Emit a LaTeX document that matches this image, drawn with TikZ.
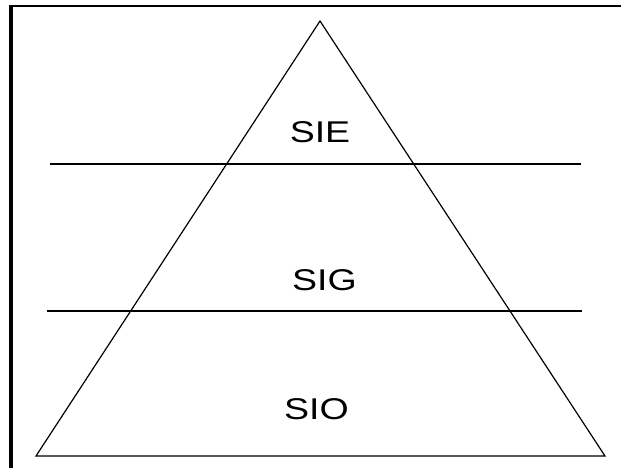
\documentclass[tikz,border=0pt]{standalone}
\usepackage{fontspec}
\usepackage{tikz}
\usetikzlibrary{positioning}
\newfontfamily\lvlfont[FakeStretch=1.25]{Liberation Sans}
\tikzset{
  pyr/.style={draw=black,line width=1.2pt,line join=miter},
  cut/.style={draw=black,line width=1.2pt},
  frameline/.style={draw=black,line width=#1},
  lvl/.style={inner sep=0pt,font=\lvlfont\fontsize{30}{34}\selectfont}
}

\begin{document}
\begin{tikzpicture}[x=1pt,y=-1pt]
  \useasboundingbox (0,0) rectangle (621,468);
  % frame (top and left only)
  \coordinate (fTL) at (10.5,6);
  \coordinate (fTR) at (621,6);
  \coordinate (fBL) at (10.5,468);
  \draw[frameline=2.6pt] (8.5,6) -- (fTR);
  \draw[frameline=4pt] (fTL) -- (fBL);

  % pyramid
  \coordinate (apex) at (320,21);
  \coordinate (baseL) at (36,456);
  \coordinate (baseR) at (605,456);
  \draw[pyr] (apex) -- (baseR) -- (baseL) -- cycle;

  % level cuts
  \coordinate (cutAL) at (50,164);
  \coordinate (cutAR) at (581,164);
  \coordinate (cutBL) at (47,311);
  \coordinate (cutBR) at (582,311);
  \draw[cut] (cutAL) -- (cutAR);
  \draw[cut] (cutBL) -- (cutBR);

  % levels
  \node[lvl] (sie) at (320,132.5) {SIE};
  \node[lvl] (sig) at (324.5,280.5) {SIG};
  \node[lvl] (sio) at (316.5,409) {SIO};
\end{tikzpicture}
\end{document}
